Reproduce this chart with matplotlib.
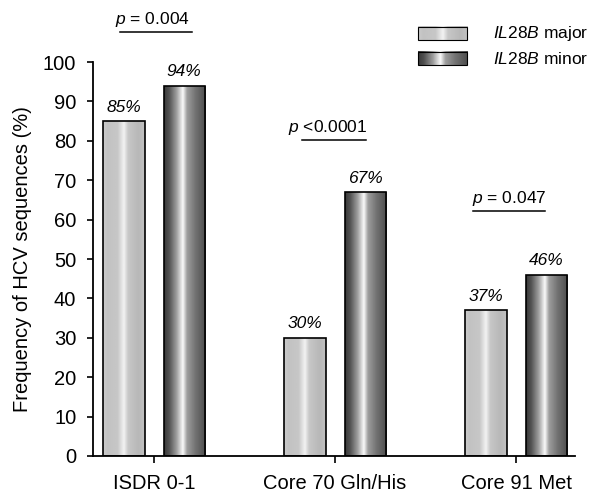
import matplotlib
matplotlib.use('Agg')
import matplotlib.pyplot as plt
import numpy as np

plt.rcParams['font.family'] = ['Liberation Sans', 'DejaVu Sans']
plt.rcParams['mathtext.fontset'] = 'custom'
plt.rcParams['mathtext.rm'] = 'Liberation Sans'
plt.rcParams['mathtext.it'] = 'Liberation Sans:italic'

# data
categories = ['ISDR 0-1', 'Core 70 Gln/His', 'Core 91 Met']
major = [85, 30, 37]
minor = [94, 67, 46]
pvalues = ['$p$ = 0.004', '$p$ <0.0001', '$p$ = 0.047']
legend_labels = ['$\\mathit{IL28B}$ major', '$\\mathit{IL28B}$ minor']

# layout of the p-value brackets (data units)
p_line_y = [107.6, 80.2, 62.2]
p_line_x = [(-0.19, 0.21), (0.82, 1.17), (1.76, 2.16)]
p_text_x = [-0.01, 0.96, 1.96]


def gradient(stops, vals, n=200):
    t = np.linspace(0, 1, n)
    g = np.interp(t, stops, vals)
    return np.tile(g, (2, 1))


grad_major = gradient([0, 0.1, 0.35, 0.5, 0.6, 0.85, 1],
                      [0.80, 0.76, 0.78, 0.95, 0.78, 0.72, 0.76])
grad_minor = gradient([0, 0.12, 0.3, 0.45, 0.55, 0.75, 1],
                      [0.22, 0.32, 0.62, 0.98, 0.62, 0.45, 0.30])

fig = plt.figure(figsize=(5.97, 4.95), dpi=100)
ax = fig.add_axes([0.1558, 0.0788, 0.8074, 0.7959])

x = np.arange(len(categories))
w = 0.227
off = 0.166


def draw_bars(xs, vals, grad):
    bars = ax.bar(xs, vals, w, facecolor='none', edgecolor='black',
                  linewidth=1.2, zorder=3)
    for b in bars:
        x0, y0 = b.get_x(), b.get_y()
        im = ax.imshow(grad, cmap='gray', vmin=0, vmax=1, aspect='auto',
                       extent=[x0, x0 + b.get_width(), y0, y0 + b.get_height()],
                       zorder=2, interpolation='bilinear')
        im.set_clip_path(b)
    return bars


draw_bars(x - off, major, grad_major)
draw_bars(x + off, minor, grad_minor)

for xi, v in zip(x - off, major):
    ax.text(xi, v + 1.6, '%d%%' % v, ha='center', va='bottom',
            fontsize=12.5, style='italic')
for xi, v in zip(x + off, minor):
    ax.text(xi, v + 1.6, '%d%%' % v, ha='center', va='bottom',
            fontsize=12.5, style='italic')

for (lx0, lx1), ly, tx, pt in zip(p_line_x, p_line_y, p_text_x, pvalues):
    ax.plot([lx0, lx1], [ly, ly], color='black', lw=1.1, clip_on=False)
    ax.text(tx, ly + 2.0, pt, ha='center', va='baseline', fontsize=12.5)

# legend drawn by hand with gradient swatches
sw_x = (0.674, 0.776)
sw_y = [(1.056, 1.089), (0.992, 1.025)]
for (y0, y1), grad, lab in zip(sw_y, [grad_major, grad_minor], legend_labels):
    ax.imshow(grad, cmap='gray', vmin=0, vmax=1, aspect='auto',
              extent=[sw_x[0], sw_x[1], y0, y1], transform=ax.transAxes,
              clip_on=False, zorder=4)
    ax.add_patch(plt.Rectangle((sw_x[0], y0), sw_x[1] - sw_x[0], y1 - y0,
                               transform=ax.transAxes, fill=False,
                               edgecolor='black', lw=0.8, clip_on=False,
                               zorder=5))
    ax.text(0.830, (y0 + y1) / 2, lab, transform=ax.transAxes,
            ha='left', va='center', fontsize=12.5)

ax.set_xlim(-0.337, 2.326)
ax.set_ylim(0, 100)
ax.set_yticks(np.arange(0, 101, 10))
ax.set_xticks(x)
ax.set_xticklabels(categories)
ax.tick_params(axis='both', labelsize=14.5, direction='out', length=4,
               width=1.2)
ax.tick_params(axis='x', length=5, pad=8)
ax.tick_params(axis='y', pad=8)
ax.set_ylabel('Frequency of HCV sequences (%)', fontsize=14.5, labelpad=8)
ax.spines['top'].set_visible(False)
ax.spines['right'].set_visible(False)
ax.spines['left'].set_linewidth(1.3)
ax.spines['bottom'].set_linewidth(1.3)

fig.savefig('out.png', dpi=100)
